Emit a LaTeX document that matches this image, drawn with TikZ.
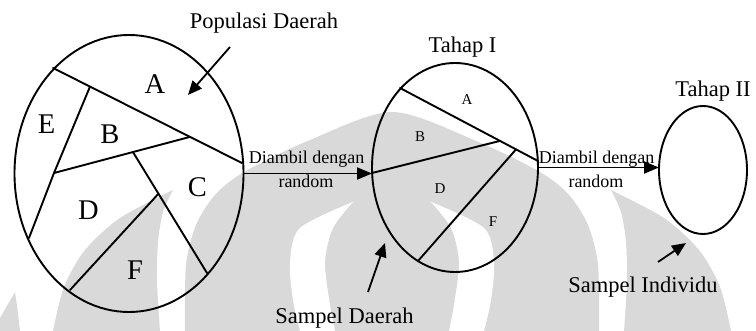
\documentclass[tikz,border=0pt]{standalone}
\usepackage{fontspec}
\setmainfont{Liberation Serif}
\usetikzlibrary{arrows.meta,shapes.geometric}

\begin{document}
\begin{tikzpicture}[x=1pt,y=-1pt,
  wm/.style={fill=black!15,draw=none},
  region/.style={draw,ellipse,line width=1.9pt,inner sep=0pt,outer sep=0pt},
  cut/.style={line width=1.9pt,line cap=round},
  flow/.style={line width=1.9pt,-{Triangle[length=15pt,width=12pt]}},
  pointer/.style={line width=1.8pt,-{Triangle[length=14pt,width=12pt]}},
  biglet/.style={anchor=base,inner sep=0pt,font=\fontsize{28.5}{30}\selectfont},
  smalllet/.style={anchor=base,inner sep=0pt,font=\fontsize{15}{17}\selectfont},
  caption/.style={anchor=base,inner sep=0pt,font=\fontsize{22.5}{26}\selectfont},
  flowtext/.style={anchor=base,inner sep=0pt,font=\fontsize{18}{20}\selectfont}]
\useasboundingbox (0,0) rectangle (756,331);

% --- faint emblem in the background ---
\fill[wm] (0,318) -- (15,292) .. controls (17,305) .. (20,331) -- (0,331) -- cycle;
\foreach \mir in {1,-1}{
  \begin{scope}[shift={({392-392*\mir},0)},xscale=\mir]
    \fill[wm] plot[smooth] coordinates {(53,331) (64,287) (85,250) (120,218) (173,190)}
      -- plot[smooth] coordinates {(173,190) (163,212) (158,242) (157,282) (160,331)} -- cycle;
  \end{scope}
}
\fill[wm] plot[smooth] coordinates {(185,331) (186,265) (196,225) (215,195) (244,172)
  (310,140) (392,112) (474,140) (540,172) (569,195) (588,225) (598,265) (599,331)} -- cycle;
\foreach \mir in {1,-1}{
  \begin{scope}[shift={({392-392*\mir},0)},xscale=\mir]
    \fill[white] plot[smooth] coordinates {(300,331) (293,300) (290,262) (300,228) (353,202)}
      -- plot[smooth] coordinates {(353,202) (333,228) (325,262) (330,305) (335,331)} -- cycle;
  \end{scope}
}

% --- the three regions ---
\node[region,minimum width=229pt,minimum height=277pt] (pop) at (129,173.5) {};
\node[region,minimum width=166pt,minimum height=209pt] (mid) at (455,167.5) {};
\node[region,minimum width=88pt,minimum height=128pt] (ind) at (703,170) {};

% partition of the population
\coordinate (p1) at (53,68);
\coordinate (p2) at (242,163);
\coordinate (p3) at (90,86.6);
\coordinate (p4) at (54,173);
\coordinate (p5) at (190,136.9);
\coordinate (p6) at (29,238);
\coordinate (p7) at (133,152.1);
\coordinate (p8) at (207,273);
\coordinate (p9) at (158.5,193.7);
\coordinate (p10) at (70,290);
\draw[cut] (p1) -- (p2);
\draw[cut] (p3) -- (p4) -- (p6);
\draw[cut] (p4) -- (p5);
\draw[cut] (p7) -- (p8);
\draw[cut] (p9) -- (p10);

\node[biglet] (la) at (155,94) {A};
\node[biglet] (le) at (46.7,133.3) {E};
\node[biglet] (lb) at (110,143.3) {B};
\node[biglet] (lc) at (197.3,196.7) {C};
\node[biglet] (ld) at (88.3,219.3) {D};
\node[biglet] (lf) at (135,279.3) {F};

% partition of the first-stage sample
\coordinate (q1) at (400,88);
\coordinate (q2) at (538,161);
\coordinate (q3) at (372,173);
\coordinate (q4) at (500,140.9);
\coordinate (q5) at (516,149.4);
\coordinate (q6) at (418,261);
\draw[cut] (q1) -- (q2);
\draw[cut] (q3) -- (q4);
\draw[cut] (q5) -- (q6);

\node[smalllet] (ma) at (467,105) {A};
\node[smalllet] (mb) at (420,141.7) {B};
\node[smalllet] (md) at (440,193.3) {D};
\node[smalllet] (mf) at (493,226.7) {F};

% sampling steps
\draw[flow] (pop.east) -- (pop.east -| mid.west);
\draw[flow] (mid.east) -- (mid.east -| ind.west);
\node[flowtext] (d1) at (306.5,164) {Diambil dengan};
\node[flowtext] (r1) at (306,187.3) {random};
\node[flowtext] (d2) at (596.5,164) {Diambil dengan};
\node[flowtext] (r2) at (596,187.7) {random};

% captions and pointers
\node[caption] (tpop) at (264,28.3) {Populasi Daerah};
\node[caption] (t1) at (462.5,52.7) {Tahap I};
\node[caption] (t2) at (713,96.7) {Tahap II};
\node[caption] (tsd) at (344.5,323.3) {Sampel Daerah};
\node[caption] (tsi) at (643,292.7) {Sampel Individu};

\coordinate (ps) at (230,47);
\coordinate (pe) at (188,95);
\coordinate (ds) at (368,292);
\coordinate (de) at (385,243);
\coordinate (is) at (658,262);
\coordinate (ie) at (686,243);
\draw[pointer] (ps) -- (pe);
\draw[pointer] (ds) -- (de);
\draw[pointer] (is) -- (ie);
\end{tikzpicture}
\end{document}
